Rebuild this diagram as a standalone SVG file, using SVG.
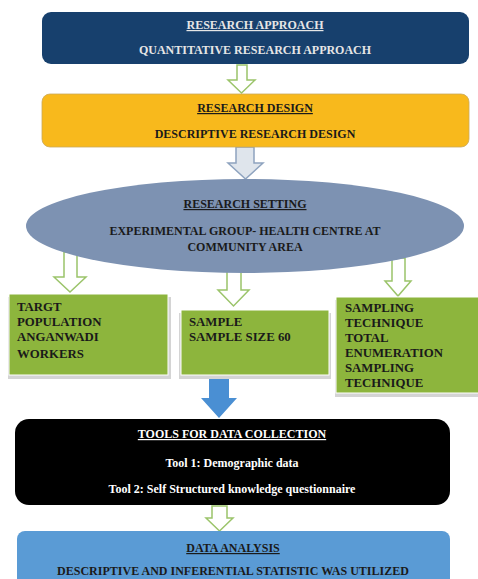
<svg xmlns="http://www.w3.org/2000/svg" width="478" height="579" viewBox="0 0 478 579">
<style>
.t{font-family:"Liberation Serif","Times New Roman",serif;font-weight:bold;font-size:12px;text-anchor:middle}
.g{font-family:"Liberation Serif","Times New Roman",serif;font-weight:bold;font-size:12.8px;fill:#1a1a1a}
.u{text-decoration:underline}
.ha{fill:#ffffff;stroke:#9bc46a;stroke-width:1.5}
.sh{fill:#d4d4d4}
.gb{fill:#8db53d;stroke:#ffffff;stroke-width:1}
</style>
<rect width="478" height="579" fill="#ffffff"/>
<g id="connectors">
<polygon class="ha" points="237,65 247,65 247,80 255,80 241.5,93 228,80 237,80"/>
<polygon points="236,147 254,147 254,163 263,163 245.5,179 228,163 236,163" fill="#dfe5ec" stroke="#8ea3bf" stroke-width="1.5"/>
<polygon class="ha" points="64,252 77,252 77,277 86,277 70,292 54,277 64,277"/>
<polygon class="ha" points="227,268 241,268 241,290 249,290 233.5,306 218,290 227,290"/>
<polygon class="ha" points="392,258 405,258 405,281 411,281 398,296 385,281 392,281"/>
<polygon points="209,378 229,378 229,398 237,398 219,418 201,398 209,398" fill="#4a8fd3"/>
<polygon class="ha" points="212,506 227,506 227,518 233,518 219.5,531 206,518 212,518"/>
</g>
<g id="research-approach">
<rect x="42" y="12" width="427" height="52" rx="9" fill="#17406d"/>
<text class="t u" x="255" y="29" fill="#e6e6e6">RESEARCH APPROACH</text>
<text class="t" x="255" y="54" fill="#e6e6e6">QUANTITATIVE RESEARCH APPROACH</text>
</g>
<g id="research-design">
<rect x="42" y="94" width="427" height="53" rx="8" fill="#f8b91c" stroke="#c9a85a" stroke-width="0.8"/>
<text class="t u" x="255" y="112" fill="#1a1a1a">RESEARCH DESIGN</text>
<text class="t" x="255" y="138" fill="#1a1a1a">DESCRIPTIVE RESEARCH DESIGN</text>
</g>
<g id="research-setting">
<ellipse cx="245" cy="226" rx="219" ry="47" fill="#7d92b2"/>
<text class="t u" x="245" y="208" fill="#1a1a1a">RESEARCH SETTING</text>
<text class="t" x="245" y="235" fill="#1a1a1a">EXPERIMENTAL GROUP- HEALTH CENTRE AT</text>
<text class="t" x="245" y="251" fill="#1a1a1a">COMMUNITY AREA</text>
</g>
<g id="target-population">
<rect class="sh" x="8" y="297" width="163" height="82"/>
<rect class="gb" x="9" y="294" width="159" height="81"/>
<text class="g" x="17" y="311">TARGT</text>
<text class="g" x="17" y="326">POPULATION</text>
<text class="g" x="17" y="341">ANGANWADI</text>
<text class="g" x="17" y="358">WORKERS</text>
</g>
<g id="sample">
<rect class="sh" x="179" y="313" width="152" height="66"/>
<rect class="gb" x="181" y="310" width="148" height="65"/>
<text class="g" x="189" y="326">SAMPLE</text>
<text class="g" x="189" y="341">SAMPLE SIZE  60</text>
</g>
<g id="sampling-technique">
<rect class="sh" x="335" y="300" width="143" height="97"/>
<rect class="gb" x="336" y="297" width="143" height="96"/>
<text class="g" x="345" y="312">SAMPLING</text>
<text class="g" x="345" y="327">TECHNIQUE</text>
<text class="g" x="345" y="342">TOTAL</text>
<text class="g" x="345" y="357">ENUMERATION</text>
<text class="g" x="345" y="372">SAMPLING</text>
<text class="g" x="345" y="387">TECHNIQUE</text>
</g>
<g id="tools">
<rect x="15" y="419" width="435" height="86" rx="14" fill="#000000"/>
<text class="t u" x="232" y="438" fill="#ffffff">TOOLS FOR DATA COLLECTION</text>
<text class="t" x="232" y="467" fill="#ffffff">Tool 1: Demographic data</text>
<text class="t" x="232" y="493" fill="#ffffff">Tool 2: Self Structured knowledge questionnaire</text>
</g>
<g id="data-analysis">
<rect x="17" y="531" width="433" height="60" rx="8" fill="#5a9bd5"/>
<text class="t u" x="233" y="552" fill="#1a1a1a">DATA ANALYSIS</text>
<text class="t" x="233" y="575" fill="#1a1a1a">DESCRIPTIVE AND INFERENTIAL STATISTIC WAS UTILIZED</text>
</g>
</svg>
